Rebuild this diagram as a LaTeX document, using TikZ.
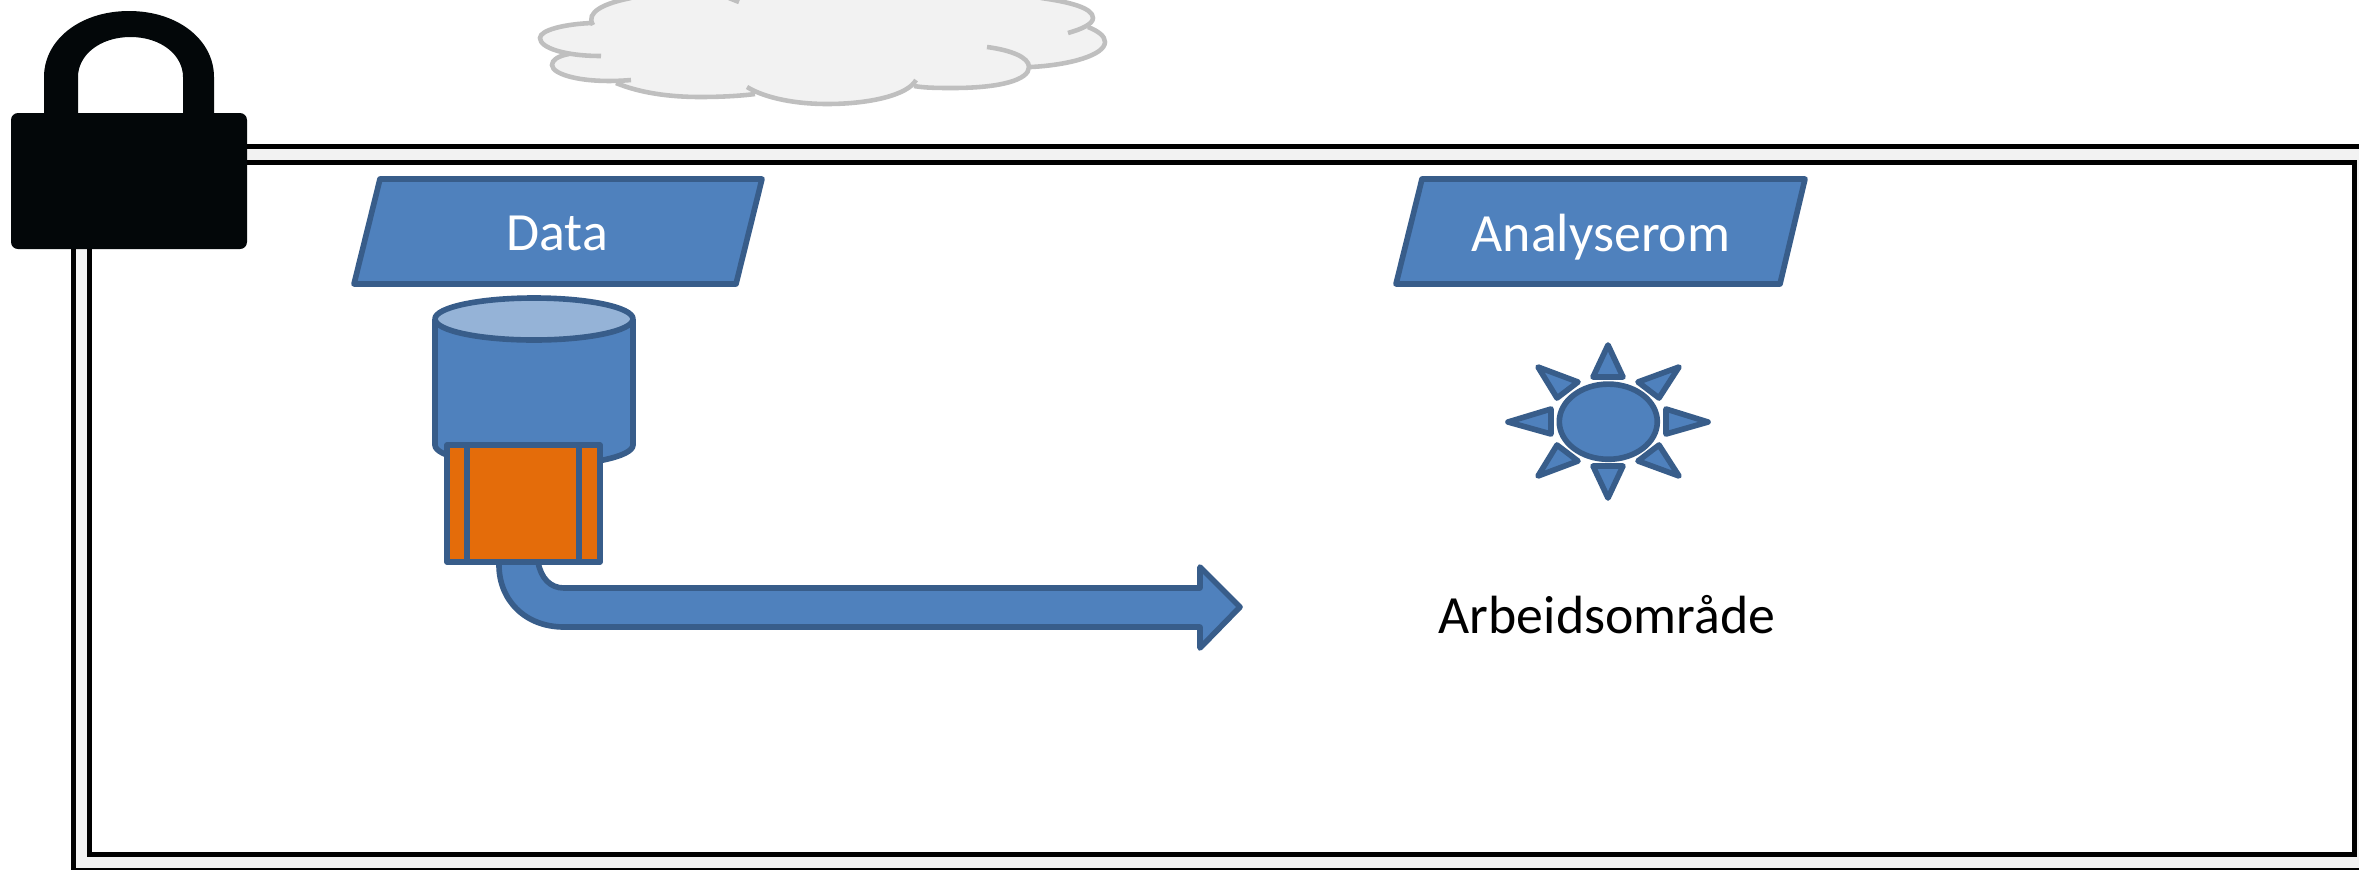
\documentclass[tikz,border=0pt]{standalone}
\usepackage{fontspec}
\setmainfont{Carlito}
\usepackage{tikz}
\definecolor{blueface}{HTML}{4F81BD}
\definecolor{blueline}{HTML}{385D8A}
\definecolor{bluetop}{HTML}{95B3D7}
\definecolor{orangeface}{HTML}{E46C0A}
\definecolor{paleface}{HTML}{F2F2F2}
\definecolor{cloudline}{HTML}{BFBFBF}
\definecolor{lockface}{HTML}{030709}
\tikzstyle{shapeblue}=[draw=blueline,fill=blueface,line width=1.6pt,line join=round]
\tikzstyle{frameline}=[draw=black,line width=1.6pt]
\tikzstyle{cloudarc}=[draw=cloudline,line width=1.3pt]
\tikzstyle{label}=[anchor=base,inner sep=0pt,font=\fontsize{15.3}{18}\selectfont]

\begin{document}
\begin{tikzpicture}[x=0.01cm,y=-0.01cm]
            \clip (0,0) rectangle (2359,869);
            % walls
            \draw[frameline,fill=paleface] (73.5,146.5) rectangle (2400,870.5);
            \draw[frameline,fill=white] (89.5,162.5) rectangle (2354.5,854.5);
            % cloud
            \fill[paleface] (631,-2) .. controls (605,3) and (585,12) .. (593,23)
                .. controls (565,24) and (540,30) .. (540,38)
                .. controls (540,47) and (552,51) .. (569,54)
                .. controls (558,56) and (552,60) .. (552,65)
                .. controls (552,75) and (585,84) .. (616,83)
                .. controls (640,93) and (670,97) .. (700,97)
                .. controls (720,97) and (740,96) .. (755,94)
                .. controls (775,100) and (800,104) .. (827,104)
                .. controls (870,104) and (908,95) .. (914,86)
                .. controls (925,88) and (940,88) .. (953,88)
                .. controls (990,88) and (1020,80) .. (1031,67)
                .. controls (1070,65) and (1105,55) .. (1105,42)
                .. controls (1105,36) and (1098,31) .. (1088,27)
                .. controls (1093,24) and (1093,22) .. (1093,18)
                .. controls (1093,8) and (1070,2) .. (1041,-2) -- cycle;
            \draw[cloudarc] (593,25) .. controls (585,12) and (605,3) .. (631,-2);
            \draw[cloudarc] (592,23) .. controls (565,24) and (540,30) .. (540,38) .. controls (540,48) and (565,56) .. (601,56);
            \draw[cloudarc] (569,54) .. controls (558,56) and (552,60) .. (552,65) .. controls (552,75) and (585,84) .. (631,80);
            \draw[cloudarc] (616,83) .. controls (640,93) and (670,97) .. (700,97) .. controls (720,97) and (740,96) .. (755,94);
            \draw[cloudarc] (747,87) .. controls (765,98) and (795,104) .. (827,104) .. controls (870,104) and (908,95) .. (916,80);
            \draw[cloudarc] (914,86) .. controls (925,88) and (940,88) .. (953,88) .. controls (1000,88) and (1029,80) .. (1029,67) .. controls (1029,57) and (1010,50) .. (987,47);
            \draw[cloudarc] (1031,67) .. controls (1070,65) and (1105,55) .. (1105,42) .. controls (1105,36) and (1098,31) .. (1088,27);
            \draw[cloudarc] (1068,33) .. controls (1082,29) and (1093,24) .. (1093,18) .. controls (1093,8) and (1070,2) .. (1041,-2);
            \draw[cloudarc] (729,-2) -- (739,2);
            % lock
            \fill[lockface,even odd rule] (44,120) -- (44,77) .. controls (44,40) and (80,11) .. (129,11)
                .. controls (178,11) and (214,40) .. (214,77) -- (214,120) -- cycle
                (78,120) -- (78,77) .. controls (78,55) and (100,37) .. (130.5,37)
                .. controls (161,37) and (183,55) .. (183,77) -- (183,120) -- cycle;
            \fill[lockface,rounded corners=0.07cm] (11,113) rectangle (247,249);
            % titles
            \draw[shapeblue] (380,179) -- (762,179) -- (736,284) -- (354,284) -- cycle;
            \node[label,white] (data) at (557,250) {Data};
            \draw[shapeblue] (1422,179) -- (1805,179) -- (1780,284) -- (1396,284) -- cycle;
            \node[label,white] (room) at (1601,251) {Analyserom};
            % storage
            \draw[shapeblue] (435,319) -- (435,445) arc[start angle=180,end angle=360,x radius=99,y radius=-21] -- (633,319);
            \draw[shapeblue,fill=bluetop] (534,319) ellipse[x radius=99,y radius=21];
            % way out
            \draw[shapeblue] (499,550) -- (499,565) .. controls (499,600) and (525,627) .. (564,627) -- (1200,627)
                -- (1200,648) -- (1240,607) -- (1200,567) -- (1200,588) -- (564,588)
                .. controls (550,588) and (541,578) .. (538,562) -- (538,550) -- cycle;
            \draw[shapeblue,fill=orangeface] (447,445) rectangle (600,562);
            \draw[shapeblue] (467,445) -- (467,562) (579,445) -- (579,562);
            % sun
            \draw[shapeblue] (1608.3,421.7) ellipse[x radius=49,y radius=37.6];
            \foreach \ax/\ay/\bx/\by/\cx/\cy in {
                1608/345/1593/377/1623/377, 1679/367/1638/382/1659/398,
                1708/422/1666/409/1666/434, 1679/476/1638/461/1659/445,
                1608/498/1593/466/1623/466, 1538/476/1578/461/1557/445,
                1508/422/1551/409/1551/434, 1538/367/1578/382/1557/398}
                \draw[shapeblue] (\ax,\ay) -- (\bx,\by) -- (\cx,\cy) -- cycle;
            \node[label] (work) at (1607,633) {Arbeidsområde};
        \end{tikzpicture}
\end{document}
